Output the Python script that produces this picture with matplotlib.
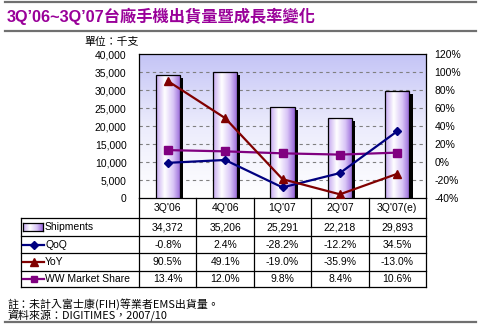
import numpy as np
import matplotlib
matplotlib.use("Agg")
import matplotlib.pyplot as plt
from matplotlib.colors import LinearSegmentedColormap
from matplotlib.lines import Line2D

categories = ["3Q'06", "4Q'06", "1Q'07", "2Q'07", "3Q'07(e)"]
shipments = [34372, 35206, 25291, 22218, 29893]
qoq = [-0.8, 2.4, -28.2, -12.2, 34.5]
yoy = [90.5, 49.1, -19.0, -35.9, -13.0]
share = [13.4, 12.0, 9.8, 8.4, 10.6]
left_ticks = [0, 5000, 10000, 15000, 20000, 25000, 30000, 35000, 40000]
right_ticks = [-40, -20, 0, 20, 40, 60, 80, 100, 120]
series_names = ["Shipments", "QoQ", "YoY", "WW Market Share"]

W, H = 481, 330
fig = plt.figure(figsize=(W / 100, H / 100), dpi=100)
fig.patch.set_facecolor("white")

LAT = ["Liberation Sans", "Noto Sans CJK TC"]
CJK = ["Noto Sans CJK TC", "Liberation Sans"]

def fx(x):
    return x / W

def fy(y):
    return 1 - y / H

# plot area in pixels
L, R, T, B = 139, 426, 54.5, 198
ax = fig.add_axes([fx(L), fy(B), (R - L) / W, (B - T) / H])
ax.set_xlim(-0.5, len(categories) - 0.5)
ax.set_ylim(0, 40000)

# background gradient
grad = np.linspace(0, 1, 256).reshape(-1, 1)
bg_cmap = LinearSegmentedColormap.from_list("bg", ["#ffffff", "#ececfc", "#c4c4f6"])
ax.imshow(grad, extent=[-0.5, len(categories) - 0.5, 0, 40000], origin="lower",
          aspect="auto", cmap=bg_cmap, zorder=0)

for v in left_ticks[1:-1]:
    ax.axhline(v, color="#808080", lw=0.8, ls=(0, (3, 3)), zorder=1)

x = np.arange(len(categories))
bw = 0.42
# shadow
ax.bar(x + 0.055, np.array(shipments) - 800, width=bw, bottom=0, color="black", zorder=2)
bars = ax.bar(x, shipments, width=bw, facecolor="none", edgecolor="black", lw=0.9, zorder=4)
bar_cmap = LinearSegmentedColormap.from_list(
    "bar", [(0, "#c4a6f0"), (0.35, "#ffffff"), (0.7, "#d8c4f6"), (1, "#9562d8")])
hgrad = np.linspace(0, 1, 256).reshape(1, -1)
for b in bars:
    x0 = b.get_x()
    im = ax.imshow(hgrad, extent=[x0, x0 + b.get_width(), 0, b.get_height()],
                   aspect="auto", cmap=bar_cmap, zorder=3)
    im.set_clip_path(b)
ax.set_xlim(-0.5, len(categories) - 0.5)
ax.set_ylim(0, 40000)

ax.set_xticks([])
ax.set_yticks(left_ticks)
ax.set_yticklabels([f"{v:,}" for v in left_ticks], fontsize=7.5, family=LAT)
ax.tick_params(axis="y", length=0, pad=9)
for s in ax.spines.values():
    s.set_color("black")
    s.set_linewidth(0.9)

ax2 = ax.twinx()
ax2.set_ylim(-40, 120)
ax2.set_yticks(right_ticks)
ax2.set_yticklabels([f"{v}%" for v in right_ticks], fontsize=7.5, family=LAT)
ax2.tick_params(axis="y", length=0, pad=6)
for s in ax2.spines.values():
    s.set_visible(False)

c_qoq, c_yoy, c_share = "#000080", "#800000", "#800080"
ax2.plot(x, share, color=c_share, lw=1.6, marker="s", ms=5.5, zorder=5)
ax2.plot(x, qoq, color=c_qoq, lw=1.6, marker="D", ms=4, zorder=6)
ax2.plot(x, yoy, color=c_yoy, lw=1.6, marker="^", ms=6, zorder=7)

# unit label
fig.text(fx(84), fy(42), "單位：千支", fontsize=7.8, family=CJK, va="center", ha="left")

# title and rules
fig.text(fx(7), fy(16), "3Q’06~3Q’07台廠手機出貨量暨成長率變化", fontsize=11.7,
         family=LAT, weight="bold", color="#990099", va="center", ha="left")
for yy in (2, 31, 322):
    fig.add_artist(Line2D([fx(5), fx(476)], [fy(yy), fy(yy)], color="#707070", lw=1.6))

# data table
col_edges = [L + i * (R - L) / len(categories) for i in range(len(categories) + 1)]
row_edges = [B, 218.3, 235.7, 253.3, 270.7, 287.3]
TL = 21
def hline(x0, x1, y):
    fig.add_artist(Line2D([fx(x0), fx(x1)], [fy(y), fy(y)], color="black", lw=0.9))
def vline(xx, y0, y1):
    fig.add_artist(Line2D([fx(xx), fx(xx)], [fy(y0), fy(y1)], color="black", lw=0.9))

hline(L, R, row_edges[1])
for yy in row_edges[2:]:
    hline(TL, R, yy)
hline(TL, L, row_edges[1])
vline(TL, row_edges[1], row_edges[-1])
for xe in col_edges:
    vline(xe, B, row_edges[-1])

centers = [(col_edges[i] + col_edges[i + 1]) / 2 for i in range(len(categories))]
for c, lab in zip(centers, categories):
    fig.text(fx(c), fy((row_edges[0] + row_edges[1]) / 2), lab, fontsize=7.5,
             family=LAT, ha="center", va="center")

rows = [
    [f"{v:,}" for v in shipments],
    [f"{v:.1f}%" for v in qoq],
    [f"{v:.1f}%" for v in yoy],
    [f"{v:.1f}%" for v in share],
]
for r, (name, vals) in enumerate(zip(series_names, rows)):
    yc = (row_edges[r + 1] + row_edges[r + 2]) / 2
    for c, v in zip(centers, vals):
        fig.text(fx(c), fy(yc), v, fontsize=7.5, family=LAT, ha="center", va="center")
    fig.text(fx(45), fy(yc), name, fontsize=7.5, family=LAT, ha="left", va="center")

# legend keys
yc0 = (row_edges[1] + row_edges[2]) / 2
sw = fig.add_axes([fx(23), fy(yc0 + 4), 20 / W, 8 / H])
sw.imshow(hgrad, aspect="auto", cmap=bar_cmap, extent=[0, 1, 0, 1])
sw.set_xticks([]); sw.set_yticks([])
for s in sw.spines.values():
    s.set_linewidth(0.9)
for r, (col, mk, ms) in enumerate([(c_qoq, "D", 4), (c_yoy, "^", 6), (c_share, "s", 5)]):
    yc = (row_edges[r + 2] + row_edges[r + 3]) / 2
    fig.add_artist(Line2D([fx(23), fx(44)], [fy(yc), fy(yc)], color=col, lw=1.6))
    fig.add_artist(Line2D([fx(33.5)], [fy(yc)], color=col, marker=mk, ms=ms, lw=0))

# footnotes
fig.text(fx(7), fy(304), "註：未計入富士康(FIH)等業者EMS出貨量。", fontsize=7.9,
         family=CJK, ha="left", va="center")
fig.text(fx(7), fy(315.5), "資料來源：DIGITIMES，2007/10", fontsize=7.9,
         family=CJK, ha="left", va="center")

fig.savefig("out.png", dpi=100, facecolor="white")
